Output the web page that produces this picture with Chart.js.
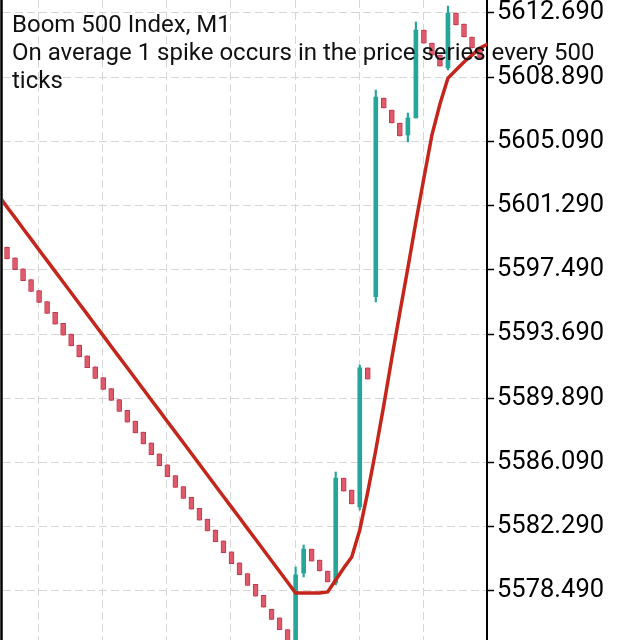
<!DOCTYPE html>
<html>
<head>
<meta charset="utf-8">
<script src="https://cdn.jsdelivr.net/npm/chart.js@4.4.1/dist/chart.umd.min.js"></script>
<style>
  html, body { margin: 0; padding: 0; background: #fff; }
  #wrap { width: 640px; height: 640px; position: relative; }
</style>
</head>
<body>
<div id="wrap"><canvas id="chart"></canvas></div>
<script>
// Boom 500 Index, M1 - candles (index 0 = first visible candle)
const opens = [
    5598.84, 5598.20, 5597.55, 5596.91, 5596.26, 5595.62, 5594.98, 5594.33, 5593.69, 5593.04,
    5592.40, 5591.76, 5591.11, 5590.47, 5589.82, 5589.18, 5588.54, 5587.89, 5587.25, 5586.60,
    5585.96, 5585.32, 5584.67, 5584.03, 5583.38, 5582.74, 5582.10, 5581.45, 5580.81, 5580.16,
    5579.52, 5578.88, 5578.23, 5577.40, 5576.90, 5576.20, 5575.40, 5579.55, 5580.97, 5580.32,
    5579.67, 5578.96, 5585.17, 5584.46, 5583.46, 5591.69, 5595.90, 5607.66, 5606.95, 5606.18,
    5605.47, 5606.48, 5611.68, 5610.91, 5610.20, 5609.44, 5612.69, 5612.04, 5611.27, 5610.62
];
const closes = [
    5598.14, 5597.50, 5596.85, 5596.21, 5595.56, 5594.92, 5594.28, 5593.63, 5592.99, 5592.34,
    5591.70, 5591.06, 5590.41, 5589.77, 5589.12, 5588.48, 5587.84, 5587.19, 5586.55, 5585.90,
    5585.26, 5584.62, 5583.97, 5583.33, 5582.68, 5582.04, 5581.40, 5580.75, 5580.11, 5579.46,
    5578.82, 5578.18, 5577.53, 5576.80, 5576.20, 5575.50, 5579.44, 5580.97, 5580.26, 5579.67,
    5579.02, 5585.17, 5584.40, 5583.64, 5591.69, 5591.03, 5607.72, 5607.07, 5606.18, 5605.41,
    5606.48, 5611.68, 5610.91, 5610.20, 5609.55, 5612.69, 5611.98, 5611.27, 5610.62, 5610.03
];
// wicks only show on the up candles
const highs = [
    5598.84, 5598.20, 5597.55, 5596.91, 5596.26, 5595.62, 5594.98, 5594.33, 5593.69, 5593.04,
    5592.40, 5591.76, 5591.11, 5590.47, 5589.82, 5589.18, 5588.54, 5587.89, 5587.25, 5586.60,
    5585.96, 5585.32, 5584.67, 5584.03, 5583.38, 5582.74, 5582.10, 5581.45, 5580.81, 5580.16,
    5579.52, 5578.88, 5578.23, 5577.40, 5576.90, 5576.20, 5579.91, 5581.21, 5580.97, 5580.32,
    5579.67, 5585.53, 5585.17, 5584.46, 5591.86, 5591.69, 5608.13, 5607.66, 5606.95, 5606.18,
    5606.77, 5612.16, 5611.68, 5610.91, 5610.20, 5613.10, 5612.69, 5612.04, 5611.27, 5610.62
];
const lows = [
    5598.14, 5597.50, 5596.85, 5596.21, 5595.56, 5594.92, 5594.28, 5593.63, 5592.99, 5592.34,
    5591.70, 5591.06, 5590.41, 5589.77, 5589.12, 5588.48, 5587.84, 5587.19, 5586.55, 5585.90,
    5585.26, 5584.62, 5583.97, 5583.33, 5582.68, 5582.04, 5581.40, 5580.75, 5580.11, 5579.46,
    5578.82, 5578.18, 5577.53, 5576.80, 5576.20, 5575.50, 5575.40, 5579.32, 5580.26, 5579.67,
    5579.02, 5578.84, 5584.40, 5583.64, 5583.28, 5591.03, 5595.59, 5607.07, 5606.18, 5605.41,
    5605.06, 5606.48, 5610.91, 5610.20, 5609.55, 5609.32, 5611.98, 5611.27, 5610.62, 5610.03
];
// moving average, first value belongs to index -1 (just off the left edge)
const maValues = [
    5601.86,
    5601.21, 5600.58, 5599.94, 5599.31, 5598.67, 5598.04, 5597.40, 5596.77, 5596.14, 5595.50,
    5594.87, 5594.23, 5593.60, 5592.96, 5592.33, 5591.70, 5591.06, 5590.43, 5589.79, 5589.16,
    5588.52, 5587.89, 5587.26, 5586.62, 5585.99, 5585.35, 5584.72, 5584.08, 5583.45, 5582.82,
    5582.18, 5581.55, 5580.91, 5580.28, 5579.64, 5579.01, 5578.37, 5578.37, 5578.37, 5578.37,
    5578.43, 5579.14, 5579.85, 5580.50, 5582.10, 5584.35, 5586.83, 5589.49, 5592.28, 5594.97,
    5597.60, 5600.32, 5602.93, 5605.47, 5607.30, 5608.84, 5609.32, 5609.79, 5610.20, 5610.62,
    5610.86
];
const priceTicks = [5578.49, 5582.29, 5586.09, 5589.89, 5593.69, 5597.49, 5601.29, 5605.09, 5608.89, 5612.69];
const timeGrid = [3.87, 11.89, 19.91, 27.93, 35.95, 43.97, 51.99];
const titleLines = [
    'Boom 500 Index, M1',
    'On average 1 spike occurs in the price series every 500',
    'ticks'
];

const UP = '#26a69a';
const DOWN = '#e05a6c';
const DOWN_EDGE = '#c23a4f';
const GRID = '#d6d6d6';

Chart.defaults.font.family = 'Roboto';

const isUp = opens.map((o, i) => closes[i] > o);
const upBodies = [];
const downBodies = [];
opens.forEach((o, i) => {
    (isUp[i] ? upBodies : downBodies).push({ x: i, y: [o, closes[i]] });
});
const wicks = highs.map((h, i) => ({ x: i, y: [lows[i], h] }));
const maPoints = maValues.map((v, i) => ({ x: i - 1, y: v }));

// left window edge + caption on top of everything
const overlay = {
    id: 'overlay',
    afterDraw(chart) {
        const ctx = chart.ctx;
        ctx.save();
        ctx.strokeStyle = '#000';
        ctx.lineWidth = 2.5;
        ctx.beginPath();
        ctx.moveTo(1.5, 0);
        ctx.lineTo(1.5, chart.height);
        ctx.stroke();

        ctx.fillStyle = '#111';
        ctx.font = '24px Roboto';
        ctx.textBaseline = 'alphabetic';
        titleLines.forEach((line, k) => {
            ctx.fillText(line, 12, 32 + k * 28);
        });
        ctx.restore();
    }
};

new Chart(document.getElementById('chart'), {
    type: 'bar',
    data: {
        datasets: [
            {
                type: 'line',
                data: maPoints,
                borderColor: '#c4261b',
                borderWidth: 3.5,
                pointRadius: 0,
                tension: 0,
                order: 0
            },
            {
                data: upBodies,
                backgroundColor: UP,
                borderWidth: 0,
                barThickness: 4,
                grouped: false,
                order: 1
            },
            {
                data: downBodies,
                backgroundColor: DOWN,
                borderColor: DOWN_EDGE,
                borderWidth: 1,
                borderSkipped: false,
                barThickness: 5,
                grouped: false,
                order: 1
            },
            {
                data: wicks,
                backgroundColor: isUp.map(u => u ? UP : DOWN),
                borderWidth: 0,
                barThickness: 1.5,
                grouped: false,
                order: 2
            }
        ]
    },
    options: {
        responsive: true,
        maintainAspectRatio: false,
        animation: false,
        events: [],
        layout: { padding: { left: 3, right: 0, top: 0, bottom: 0 } },
        plugins: {
            legend: { display: false },
            tooltip: { enabled: false }
        },
        scales: {
            x: {
                type: 'linear',
                min: -0.5,
                max: 59.87,
                offset: false,
                grid: { offset: false, color: GRID, lineWidth: 1, drawTicks: false },
                border: { display: false, dash: [8, 4] },
                ticks: { display: false },
                afterBuildTicks: (scale) => {
                    scale.ticks = timeGrid.map(v => ({ value: v }));
                },
                afterFit: (scale) => {
                    scale.height = 0;
                    scale.paddingLeft = 0;
                    scale.paddingRight = 0;
                }
            },
            y: {
                position: 'right',
                min: 5575.589,
                max: 5613.459,
                grid: {
                    color: GRID,
                    lineWidth: 1,
                    tickColor: '#000',
                    tickWidth: 1.5,
                    tickLength: 7
                },
                border: { display: true, color: '#000', width: 2, dash: [8, 4] },
                ticks: {
                    color: '#000',
                    padding: 3,
                    font: { size: 25.5, family: 'Roboto' },
                    callback: (v) => Number(v).toFixed(3)
                },
                afterBuildTicks: (scale) => {
                    scale.ticks = priceTicks.map(v => ({ value: v }));
                },
                afterFit: (scale) => {
                    scale.width = 153;
                    scale.paddingTop = 0;
                    scale.paddingBottom = 0;
                }
            }
        }
    },
    plugins: [overlay]
});
</script>
</body>
</html>
